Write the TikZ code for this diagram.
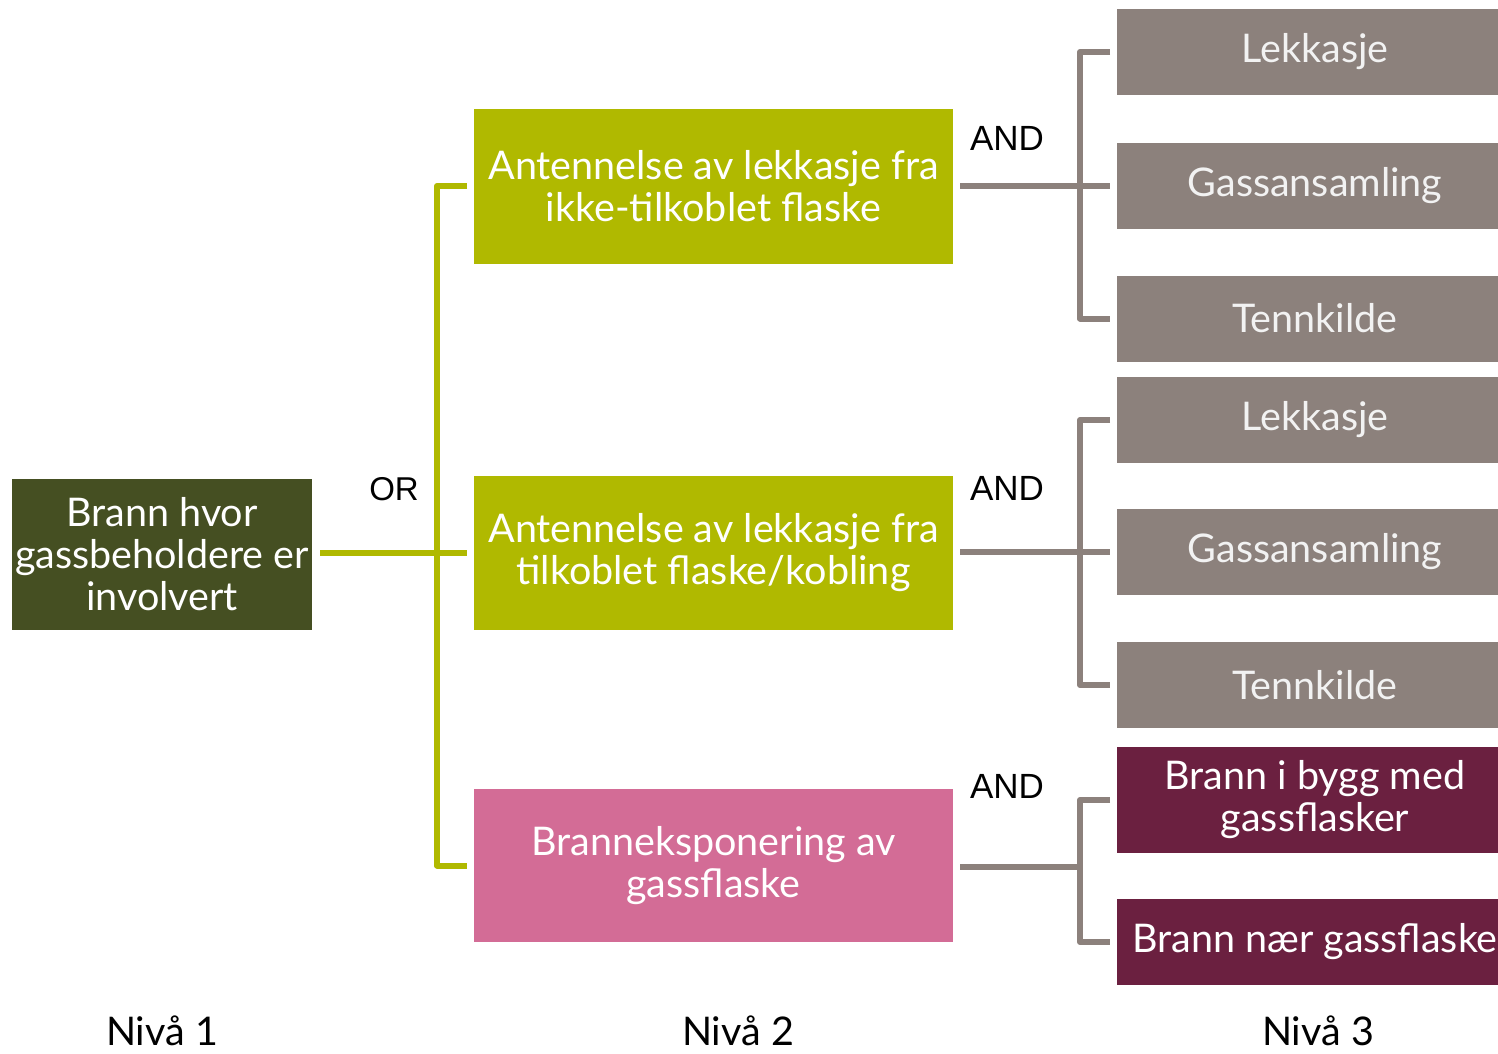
\documentclass[tikz,border=0pt]{standalone}
\usepackage{fontspec}
\setmainfont{Lato}
\newfontfamily\arialfont{Liberation Sans}
\definecolor{rootc}{RGB}{69,79,34}
\definecolor{limec}{RGB}{176,185,0}
\definecolor{pinkc}{RGB}{211,108,150}
\definecolor{greyc}{RGB}{140,129,124}
\definecolor{maroonc}{RGB}{107,32,64}
\definecolor{linegrey}{RGB}{140,129,124}
\tikzset{
  boxbase/.style={rectangle, inner sep=0pt, outer sep=0pt, align=center, text=white,
    font=\fontsize{39.5}{42}\selectfont},
  rootbox/.style={boxbase, fill=rootc, minimum width=300pt, minimum height=151pt},
  midbox/.style={boxbase, minimum width=479pt, minimum height=155pt},
  leafbox/.style={boxbase, fill=greyc, text=white!95!black, minimum width=396pt, minimum height=86pt},
  redbox/.style={boxbase, fill=maroonc, minimum width=396pt, minimum height=86pt},
  orline/.style={draw=limec, line width=6pt, line join=round},
  andline/.style={draw=linegrey, line width=6pt, line join=round},
  gate/.style={font=\arialfont\fontsize{33}{36}\selectfont, text=black, inner sep=0pt},
  level/.style={font=\fontsize{39.5}{42}\selectfont, text=black, inner sep=0pt}
}
\begin{document}
\begin{tikzpicture}[x=1pt,y=-1pt]
\useasboundingbox (0,0) rectangle (1498,1053);
\fill[white] (0,0) rectangle (1498,1053);
% level 1
\node[rootbox] (root) at (162,554.5) {Brann hvor\\gassbeholdere er\\involvert};
% level 2
\node[midbox, fill=limec] (a) at (713.5,186) {Antennelse av lekkasje fra\\ikke-tilkoblet flaske};
\node[midbox, fill=limec, minimum height=154pt] (b) at (713.5,553) {Antennelse av lekkasje fra\\tilkoblet flaske/kobling};
\node[midbox, fill=pinkc, minimum height=153pt] (c) at (713.5,865.5) {Branneksponering av\\gassflaske};
% level 3
\node[leafbox] (a1) at (1315,52) {Lekkasje};
\node[leafbox] (a2) at (1315,186) {Gassansamling};
\node[leafbox] (a3) at (1315,318.5) {Tennkilde};
\node[leafbox] (b1) at (1315,420) {Lekkasje};
\node[leafbox] (b2) at (1315,552) {Gassansamling};
\node[leafbox] (b3) at (1315,685) {Tennkilde};
\node[redbox, minimum height=106pt] (c1) at (1315,800) {Brann i bygg med\\gassflasker};
\node[redbox] (c2) at (1315,942) {Brann nær gassflaske};
% junctions
\coordinate (orj) at (437,553);
\coordinate (aj) at (1080,186);
\coordinate (bj) at (1080,552);
\coordinate (cj) at (1080,867);
% OR connectors
\draw[orline] ([xshift=8pt]root.east |- orj) -- ([xshift=-7pt]b.west |- orj);
\draw[orline] ([xshift=-7pt]a.west) -| (orj) |- ([xshift=-7pt]c.west);
% AND connectors
\draw[andline] ([xshift=7pt]a.east |- aj) -- (aj);
\draw[andline] ([xshift=-7pt]a1.west) -| (aj) |- ([xshift=-7pt]a3.west);
\draw[andline] (aj) -- ([xshift=-7pt]a2.west |- aj);
\draw[andline] ([xshift=7pt]b.east |- bj) -- (bj);
\draw[andline] ([xshift=-7pt]b1.west) -| (bj) |- ([xshift=-7pt]b3.west);
\draw[andline] (bj) -- ([xshift=-7pt]b2.west |- bj);
\draw[andline] ([xshift=7pt]c.east |- cj) -- (cj);
\draw[andline] ([xshift=-7pt]c1.west) -| (cj) |- ([xshift=-7pt]c2.west);
% gate labels
\node[gate] (orl) at (394,489) {OR};
\node[gate, font=\arialfont\fontsize{35}{38}\selectfont] (andl1) at (1007,138) {AND};
\node[gate, font=\arialfont\fontsize{35}{38}\selectfont] (andl2) at (1007,488) {AND};
\node[gate, font=\arialfont\fontsize{35}{38}\selectfont] (andl3) at (1007,786) {AND};
% level labels
\node[level] (n1) at (162,1031) {Nivå 1};
\node[level] (n2) at (738,1031) {Nivå 2};
\node[level] (n3) at (1318,1031) {Nivå 3};
\end{tikzpicture}
\end{document}
